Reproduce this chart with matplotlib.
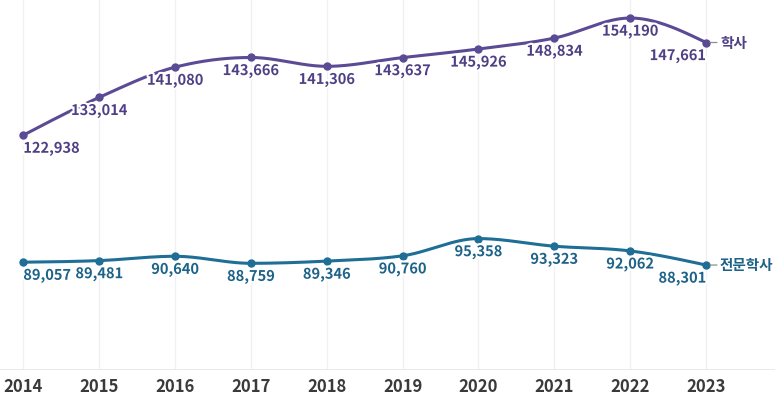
import numpy as np
import matplotlib
matplotlib.use("Agg")
import matplotlib.pyplot as plt
import matplotlib.patheffects as pe

plt.rcParams['font.family'] = ['Noto Sans CJK KR', 'DejaVu Sans']

years = [2014, 2015, 2016, 2017, 2018, 2019, 2020, 2021, 2022, 2023]
bachelor = [122938, 133014, 141080, 143666, 141306, 143637, 145926, 148834, 154190, 147661]
associate = [89057, 89481, 90640, 88759, 89346, 90760, 95358, 93323, 92062, 88301]
series_names = ['학사', '전문학사']

line_colors = ['#5b4a94', '#1f6e95']
label_colors = ['#4f4085', '#1d6288']


def monotone_x(x, y, n=40):
    # Steffen monotone cubic interpolation (d3 curveMonotoneX)
    x = np.asarray(x, float)
    y = np.asarray(y, float)
    h = np.diff(x)
    s = np.diff(y) / h
    m = np.zeros_like(y)
    for i in range(1, len(y) - 1):
        p = (s[i - 1] * h[i] + s[i] * h[i - 1]) / (h[i - 1] + h[i])
        m[i] = (np.sign(s[i - 1]) + np.sign(s[i])) * min(abs(s[i - 1]), abs(s[i]), 0.5 * abs(p))
    m[0] = (3 * s[0] - m[1]) / 2 if len(y) > 2 else s[0]
    m[-1] = (3 * s[-1] - m[-2]) / 2 if len(y) > 2 else s[-1]
    xs, ys = [], []
    for i in range(len(x) - 1):
        t = np.linspace(0, 1, n)
        h00 = 2 * t**3 - 3 * t**2 + 1
        h10 = t**3 - 2 * t**2 + t
        h01 = -2 * t**3 + 3 * t**2
        h11 = t**3 - t**2
        xs.append(x[i] + t * h[i])
        ys.append(h00 * y[i] + h10 * h[i] * m[i] + h01 * y[i + 1] + h11 * h[i] * m[i + 1])
    return np.concatenate(xs), np.concatenate(ys)


W, H = 775, 404
fig = plt.figure(figsize=(W / 100, H / 100), dpi=100)
ax_bottom_px = 370
ax = fig.add_axes([0, (H - ax_bottom_px) / H, 1, ax_bottom_px / H])

px_per_year = (706 - 23.3) / 9
ax.set_xlim(years[0] - 23.3 / px_per_year, years[-1] + (W - 706) / px_per_year)
ax.set_ylim(60300, 159000)

for s in ax.spines.values():
    s.set_visible(False)
ax.set_yticks([])
ax.set_xticks(years)
ax.set_xticklabels([str(y) for y in years], fontsize=12, fontweight='bold', color='#3a3a3a')
ax.tick_params(axis='x', length=0, pad=6)

for yr in years:
    ax.axvline(yr, color='#f1f1f1', lw=1, zorder=0)
ax.axhline(60300, xmin=0, xmax=1, color='#e6e6e6', lw=1.2, zorder=0)

halo = [pe.withStroke(linewidth=3, foreground='white')]

for vals, lc, tc, name in zip([bachelor, associate], line_colors, label_colors, series_names):
    sx, sy = monotone_x(years, vals)
    ax.plot(sx, sy, color=lc, lw=2.2, zorder=2, solid_capstyle='round')
    ax.plot(years, vals, 'o', color=lc, ms=5, zorder=3)
    for i, (yr, v) in enumerate(zip(years, vals)):
        ha = 'center'
        if i == 0:
            ha = 'left'
        elif i == len(years) - 1:
            ha = 'right'
        ax.annotate(f"{v:,}", xy=(yr, v), xytext=(0, -13), textcoords='offset pixels',
                    ha=ha, va='center', fontsize=10.5, fontweight='bold', color=tc,
                    path_effects=halo, zorder=4)
    # short leader dash to the series name
    ax.annotate('', xy=(years[-1], vals[-1]), xytext=(11, 0), textcoords='offset pixels',
                arrowprops=dict(arrowstyle='-', color='#8f8f8f', lw=0.9, shrinkA=0, shrinkB=3),
                zorder=4)
    ax.annotate(name, xy=(years[-1], vals[-1]), xytext=(14, 0), textcoords='offset pixels',
                ha='left', va='center', fontsize=10.5, fontweight='bold', color=tc,
                zorder=4)

fig.savefig('out.png', dpi=100)
